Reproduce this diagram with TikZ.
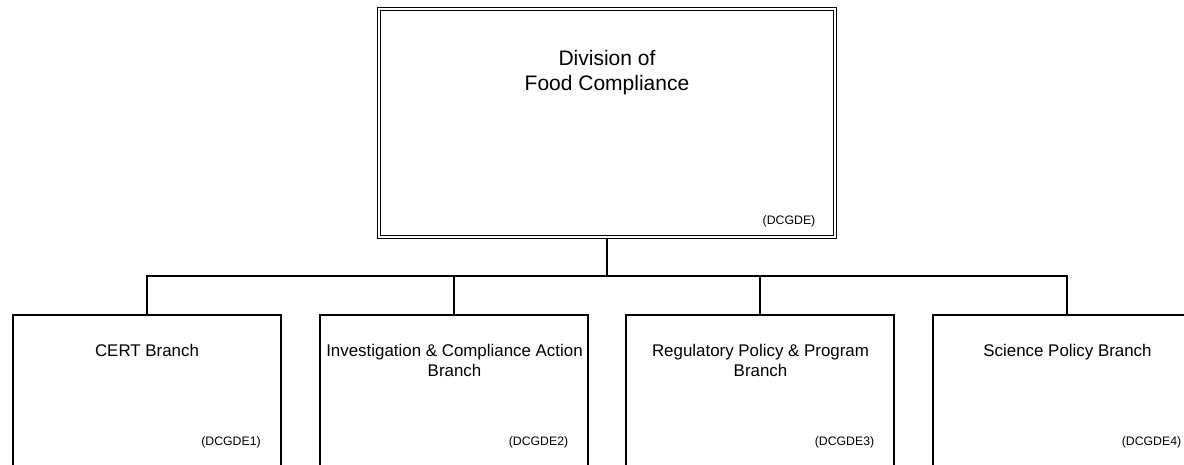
\documentclass[tikz,border=0pt]{standalone}
\usepackage{fontspec}
\setmainfont{Liberation Sans}
\begin{document}
\begin{tikzpicture}[x=1pt,y=-1pt,
  box/.style={draw=black,line width=1.6pt,minimum width=268pt,minimum height=200pt,inner sep=0pt},
  topbox/.style={draw=black,line width=1.3pt,double=white,double distance=2pt,minimum width=456pt,minimum height=228pt,inner sep=0pt},
  bigtxt/.style={font=\fontsize{21}{25.7}\selectfont,align=center,anchor=base,inner sep=0pt},
  midtxt/.style={font=\fontsize{16.9}{20}\selectfont,align=center,anchor=base,inner sep=0pt},
  idtxt/.style={font=\fontsize{12.3}{14}\selectfont,anchor=base,inner sep=0pt},
  conn/.style={draw=black,line width=1.7pt}]
\useasboundingbox (0,0) rectangle (1184,464);
\clip (0,0) rectangle (1184,464);
\node[topbox] (top) at (607,123) {};
\node[bigtxt] (toptxt) at (607,90.7) {Division of\\Food Compliance};
\node[idtxt] (topid) at (789,224) {(DCGDE)};
\node[box] (b1) at (147,415) {};
\node[box] (b2) at (454,415) {};
\node[box] (b3) at (760,415) {};
\node[box] (b4) at (1067,415) {};
\node[midtxt] (t1) at (147,356) {CERT Branch};
\node[midtxt] (t2) at (454.5,376) {Investigation \& Compliance Action\\Branch};
\node[midtxt] (t3) at (760.5,376) {Regulatory Policy \& Program\\Branch};
\node[midtxt] (t4) at (1067.5,356) {Science Policy Branch};
\node[idtxt] (i1) at (231,445.5) {(DCGDE1)};
\node[idtxt] (i2) at (538.5,445.5) {(DCGDE2)};
\node[idtxt] (i3) at (844.5,445.5) {(DCGDE3)};
\node[idtxt] (i4) at (1151.5,445.5) {(DCGDE4)};
\coordinate (bus) at (607,276);
\draw[conn] (top.south) -- (bus);
\draw[conn] (b1.north) -- (b1.north |- bus) -- (b4.north |- bus) -- (b4.north);
\draw[conn] (b2.north) -- (b2.north |- bus);
\draw[conn] (b3.north) -- (b3.north |- bus);
\end{tikzpicture}
\end{document}
